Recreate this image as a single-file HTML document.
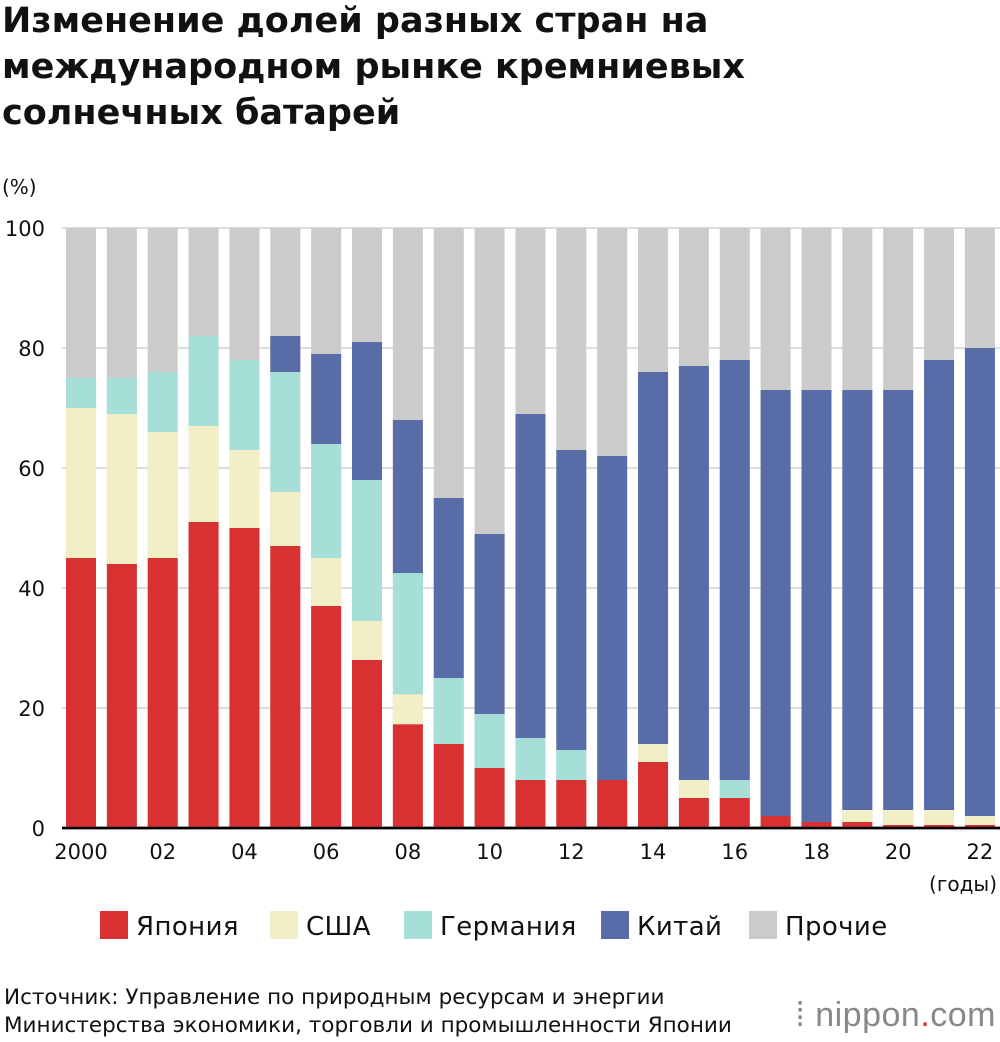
<!DOCTYPE html>
<html><head><meta charset="utf-8"><style>
body{margin:0;background:#fff;font-family:"Liberation Sans",sans-serif;}
#wrap{position:relative;width:1000px;height:1042px;overflow:hidden;}
h1{position:absolute;left:2px;top:-2px;margin:0;font-family:"DejaVu Sans",sans-serif;font-size:35px;line-height:46px;font-weight:bold;color:#111;letter-spacing:0px;}
.src{position:absolute;left:4px;top:984px;font-family:"DejaVu Sans",sans-serif;font-size:21.5px;line-height:28px;color:#111;letter-spacing:0px;}
.logo{position:absolute;right:4px;top:996px;font-size:34px;color:#888;letter-spacing:0.5px;}
</style></head><body><div id="wrap">
<h1>Изменение долей разных стран на<br>международном рынке кремниевых<br>солнечных батарей</h1>
<svg id="c" width="1000" height="1042" style="position:absolute;left:0;top:0"></svg>
<div class="src">Источник: Управление по природным ресурсам и энергии<br>Министерства экономики, торговли и промышленности Японии</div>
<div class="logo">⁞ nippon<span style="color:#d83132">.</span>com</div>
</div>
<script>
const years=[2000,2001,2002,2003,2004,2005,2006,2007,2008,2009,2010,2011,2012,2013,2014,2015,2016,2017,2018,2019,2020,2021,2022];
const japan=[45,44,45,51,50,47,37,28,17.3,14,10,8,8,8,11,5,5,2,1,1,0.5,0.5,0.5];
const usa=[25,25,21,16,13,9,8,6.5,5,0,0,0,0,0,3,3,0,0,0,2,2.5,2.5,1.5];
const germany=[5,6,10,15,15,20,19,23.5,20.2,11,9,7,5,0,0,0,3,0,0,0,0,0,0];
const china=[0,0,0,0,0,6,15,23,25.5,30,30,54,50,54,62,69,70,71,72,70,70,75,78];
const yTicks=[0,20,40,60,80,100];
const xLabels=["2000","02","04","06","08","10","12","14","16","18","20","22"];
const series=[["japan",japan,"#d83132"],["usa",usa,"#f2eec6"],["germany",germany,"#a6dfd8"],["china",china,"#586ca8"]];
const legendNames=["Япония","США","Германия","Китай","Прочие"];
const legendColors=["#d83132","#f2eec6","#a6dfd8","#586ca8","#cbcbcb"];
const svg=document.getElementById('c'),NS="http://www.w3.org/2000/svg";
const y0=828,ppu=6,x0=81,step=40.86,bw=30;
const Y=v=>y0-v*ppu, X=i=>x0+i*step;
function mk(t,a,p){const e=document.createElementNS(NS,t);for(const k in a)e.setAttribute(k,a[k]);(p||svg).appendChild(e);return e;}
const FF='"DejaVu Sans",sans-serif';
yTicks.forEach(t=>{
 const l=mk('line',{x1:62,x2:1000,y1:Y(t),y2:Y(t),stroke:t?'#bbb':'#000','stroke-width':t?1:2.5});
 
 
 const tx=mk('text',{x:45,y:Y(t)+8,'text-anchor':'end','font-size':21,fill:'#111','font-family':FF});tx.textContent=t;
 
 
});
const yt=mk('text',{x:2,y:194,'font-size':20,fill:'#111','font-family':FF});yt.textContent='(%)';


years.forEach((yr,i)=>{
 let base=0;
 const others=mk('rect',{x:X(i)-bw/2,y:Y(100),width:bw,height:100*ppu,fill:'#cbcbcb'});
 
 
 series.forEach(s=>{
  const v=s[1][i];
  if(v>0){const r=mk('rect',{x:X(i)-bw/2,y:Y(base+v),width:bw,height:v*ppu,fill:s[2]});
   
   }
  base+=v;
 });
});
mk('line',{x1:62,x2:1000,y1:y0,y2:y0,stroke:'#000','stroke-width':2.5});
xLabels.forEach((lb,k)=>{
 const t=mk('text',{x:X(k*2),y:859,'text-anchor':'middle','font-size':21,fill:'#111','font-family':FF});t.textContent=lb;
 
 
});
const xu=mk('text',{x:997,y:891,'text-anchor':'end','font-size':20,fill:'#111','font-family':FF});xu.textContent='(годы)';


const lx=[100,270,404,601,749];
legendNames.forEach((n,i)=>{
 const g=mk('g',{});
 
 
 mk('rect',{x:lx[i],y:911,width:28,height:28,fill:legendColors[i]},g);
 const t=mk('text',{x:lx[i]+36,y:935,'font-size':26,fill:'#111','font-family':FF,'letter-spacing':0.4},g);t.textContent=n;
});
</script></body></html>
